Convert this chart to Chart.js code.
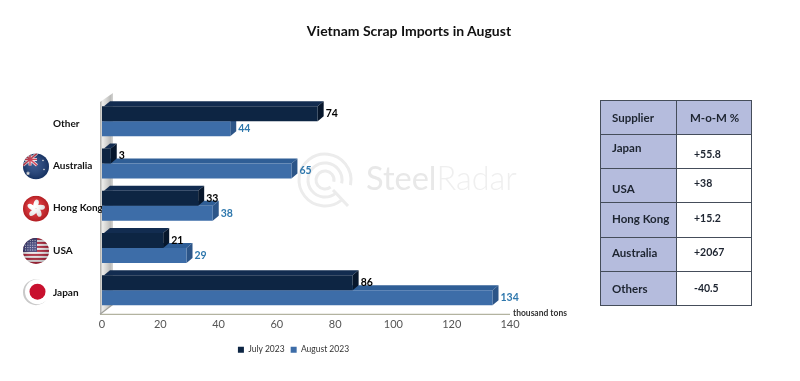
<!DOCTYPE html>
<html>
<head>
<meta charset="utf-8">
<script src="https://cdn.jsdelivr.net/npm/chart.js@4/dist/chart.umd.min.js"></script>
<style>
  html, body { margin: 0; padding: 0; background: #fff; }
  #wrap { position: relative; width: 800px; height: 381px; overflow: hidden; font-family: Lato, sans-serif; filter: blur(0.35px); }
  #chart1 { position: absolute; left: 0; top: 0; }
  #title { position: absolute; left: 209px; width: 400px; top: 22px; text-align: center; font-size: 14px; font-weight: 700; color: #111; }
  #table1 { position: absolute; left: 600px; top: 100px; width: 152px; height: 206px; border-collapse: collapse; table-layout: fixed; font-size: 11.5px; font-weight: 700; color: #1d2430; }
  #table1 td { border: 1.5px solid #454d5a; padding: 0; }
  #table1 td.name { background: #b5bcdd; padding-left: 11px; width: 64px; }
  #table1 td.val { padding-left: 17px; background: #fff; font-size: 10.5px; }
  #table1 .head td.val { background: #b5bcdd; padding-left: 13px; font-size: 11.5px; }
  #table1 span { position: relative; }
</style>
</head>
<body>
<div id="wrap">
  <canvas id="chart1" width="800" height="381"></canvas>
  <div id="title">Vietnam Scrap Imports in August</div>
  <table id="table1"></table>
</div>
<script>
var suppliers = ["Other", "Australia", "Hong Kong", "USA", "Japan"];
var july2023 = [74, 3, 33, 21, 86];
var august2023 = [44, 65, 38, 29, 134];
var xTicks = [0, 20, 40, 60, 80, 100, 120, 140];

var tableHead = ["Supplier", "M-o-M %"];
var tableNames = ["Japan", "USA", "Hong Kong", "Australia", "Others"];
var tableValues = ["+55.8", "+38", "+15.2", "+2067", "-40.5"];
var nameShift = [-4, 3, -2, -2, 0];
var valueShift = [2, -3, -2, -2, 0];

var html = '<tr class="head"><td class="name">' + tableHead[0] + '</td><td class="val">' + tableHead[1] + "</td></tr>";
tableNames.forEach(function (n, i) {
  html += '<tr><td class="name"><span style="top:' + nameShift[i] + 'px">' + n + "</span></td>";
  html += '<td class="val"><span style="top:' + valueShift[i] + 'px">' + tableValues[i] + "</span></td></tr>";
});
document.getElementById("table1").innerHTML = html;

var depthX = 6;
var depthY = 5;
var faces = [
  { top: "#122c50", side: "#07172c", label: "#000000" },
  { top: "#2f5e96", side: "#2c5588", label: "#2f78ad" },
];

function star(ctx, x, y, r) {
  ctx.beginPath();
  for (var i = 0; i < 10; i++) {
    var a = -Math.PI / 2 + (i * Math.PI) / 5;
    var q = i % 2 ? r * 0.45 : r;
    ctx.lineTo(x + Math.cos(a) * q, y + Math.sin(a) * q);
  }
  ctx.closePath();
  ctx.fill();
}

function shaded(ctx, x, y, r) {
  var g = ctx.createRadialGradient(x - 3, y - 3, 2, x, y, r);
  g.addColorStop(0, "rgba(255,255,255,0.12)");
  g.addColorStop(1, "rgba(0,0,0,0.22)");
  ctx.fillStyle = g;
  ctx.fillRect(x - r, y - r, r * 2, r * 2);
}

function flagAustralia(ctx, x, y, r) {
  ctx.fillStyle = "#1c3f7c";
  ctx.fillRect(x - r, y - r, r * 2, r * 2);
  ctx.strokeStyle = "#f1e6ea";
  ctx.lineWidth = 3;
  ctx.beginPath();
  ctx.moveTo(x - r, y - r); ctx.lineTo(x + 1, y - 1);
  ctx.moveTo(x + 1, y - r); ctx.lineTo(x - r, y - 1);
  ctx.moveTo(x - 6, y - r); ctx.lineTo(x - 6, y - 1);
  ctx.moveTo(x - r, y - 7); ctx.lineTo(x + 1, y - 7);
  ctx.stroke();
  ctx.strokeStyle = "#d0344a";
  ctx.lineWidth = 1.4;
  ctx.beginPath();
  ctx.moveTo(x - r, y - r); ctx.lineTo(x + 1, y - 1);
  ctx.moveTo(x + 1, y - r); ctx.lineTo(x - r, y - 1);
  ctx.moveTo(x - 6, y - r); ctx.lineTo(x - 6, y - 1);
  ctx.moveTo(x - r, y - 7); ctx.lineTo(x + 1, y - 7);
  ctx.stroke();
  ctx.fillStyle = "#fff";
  star(ctx, x - 8, y + 7, 2.4);
  star(ctx, x + 7, y - 6, 1.2);
  star(ctx, x + 8, y + 3, 1.2);
}

function flagHongKong(ctx, x, y, r) {
  ctx.fillStyle = "#e2252b";
  ctx.fillRect(x - r, y - r, r * 2, r * 2);
  ctx.fillStyle = "#fff";
  for (var i = 0; i < 5; i++) {
    var a = -Math.PI / 2 + (i * 2 * Math.PI) / 5;
    ctx.save();
    ctx.translate(x + Math.cos(a) * 4.6, y + Math.sin(a) * 4.6);
    ctx.rotate(a + 0.3);
    ctx.beginPath();
    ctx.ellipse(0, 0, 4.6, 2.5, 0, 0, Math.PI * 2);
    ctx.fill();
    ctx.restore();
  }
}

function flagUsa(ctx, x, y, r) {
  ctx.fillStyle = "#f3f1f3";
  ctx.fillRect(x - r, y - r, r * 2, r * 2);
  ctx.fillStyle = "#b4263c";
  for (var i = 0; i < 7; i++) {
    ctx.fillRect(x - r, y - r + i * 4, r * 2, 2);
  }
  ctx.fillStyle = "#3c3f78";
  ctx.fillRect(x - r, y - r, r + 1, r + 1);
  ctx.fillStyle = "#d9dbea";
  for (var a = 0; a < 5; a++) {
    for (var b = 0; b < 5; b++) {
      ctx.fillRect(x - r + 2 + a * 2.4, y - r + 2 + b * 2.4, 1, 1);
    }
  }
}

var flagDrawers = [null, flagAustralia, flagHongKong, flagUsa];

function drawWatermark(ctx) {
  var cx = 325;
  var cy = 180;
  ctx.save();
  ctx.strokeStyle = "#ececec";
  ctx.lineWidth = 3;
  [26, 17, 9].forEach(function (r) {
    ctx.beginPath();
    ctx.arc(cx, cy, r, 0.9, Math.PI * 2 + 0.2);
    ctx.stroke();
  });
  ctx.beginPath();
  ctx.moveTo(cx + 8, cy + 10);
  ctx.lineTo(cx + 23, cy + 26);
  ctx.stroke();
  ctx.textBaseline = "middle";
  ctx.fillStyle = "#e8e8e8";
  ctx.font = "400 32.5px Lato";
  ctx.fillText("Steel", 366, cy);
  var w = ctx.measureText("Steel").width;
  ctx.fillStyle = "#efefef";
  ctx.font = "300 32.5px Lato";
  ctx.fillText("Radar", 366 + w, cy);
  ctx.restore();
}

var decor = {
  id: "decor",
  afterLayout: function (chart) {
    // the legend sits a little right of the centre of the plot block
    chart.legend.left += 12;
    chart.legend.right += 12;
  },
  beforeDraw: function (chart) {
    var ctx = chart.ctx;
    var a = chart.chartArea;
    var yScale = chart.scales.y;
    drawWatermark(ctx);

    // back wall, under the tick labels so "Hong Kong" stays readable
    var g = ctx.createLinearGradient(a.left - 2, 0, a.left + 11, 0);
    g.addColorStop(0, "#a9a9a6");
    g.addColorStop(0.2, "#ececea");
    g.addColorStop(0.8, "#bcbcba");
    g.addColorStop(1, "#d4d4d2");
    ctx.fillStyle = g;
    ctx.beginPath();
    ctx.moveTo(a.left - 2, a.bottom + 3);
    ctx.lineTo(a.left - 2, a.top + 2);
    ctx.lineTo(a.left + 11, a.top - 7);
    ctx.lineTo(a.left + 11, a.bottom - 7);
    ctx.closePath();
    ctx.fill();

    // floor line
    ctx.strokeStyle = "#b3b3a0";
    ctx.lineWidth = 1.2;
    ctx.beginPath();
    ctx.moveTo(a.left - 2, a.bottom + 3);
    ctx.lineTo(a.right, a.bottom + 3);
    ctx.stroke();
    ctx.strokeStyle = "#a0a09a";
    ctx.beginPath();
    ctx.moveTo(a.left - 2, a.bottom + 3);
    ctx.lineTo(a.left + 11, a.bottom - 7);
    ctx.stroke();

    ctx.fillStyle = "#333";
    ctx.font = "700 8.5px Lato";
    ctx.textAlign = "left";
    ctx.textBaseline = "middle";
    ctx.fillText("thousand tons", a.right + 3, a.bottom + 2);

    // flags sit on the category positions
    var fx = a.left - 66;
    flagDrawers.forEach(function (fn, i) {
      if (!fn) return;
      var fy = yScale.getPixelForTick(i) + 3;
      ctx.save();
      ctx.beginPath();
      ctx.arc(fx, fy, 13, 0, Math.PI * 2);
      ctx.clip();
      fn(ctx, fx, fy, 13);
      shaded(ctx, fx, fy, 13);
      ctx.restore();
    });
    var jy = yScale.getPixelForTick(4) + 2;
    ctx.fillStyle = "#c9c9c9";
    ctx.beginPath();
    ctx.arc(fx, jy, 13, 0, Math.PI * 2);
    ctx.fill();
    ctx.fillStyle = "#ffffff";
    ctx.beginPath();
    ctx.arc(fx + 1.5, jy - 0.5, 12.5, 0, Math.PI * 2);
    ctx.fill();
    ctx.fillStyle = "#c8102e";
    ctx.beginPath();
    ctx.arc(fx + 1.5, jy - 0.5, 8, 0, Math.PI * 2);
    ctx.fill();
  },
  beforeDatasetDraw: function (chart, args) {
    // top and end faces behind the front of each bar
    var ctx = chart.ctx;
    var f = faces[args.index];
    args.meta.data.forEach(function (bar) {
      var y0 = bar.y - bar.height / 2;
      var y1 = bar.y + bar.height / 2;
      ctx.fillStyle = f.top;
      ctx.beginPath();
      ctx.moveTo(bar.base + 2, y0);
      ctx.lineTo(bar.base + 2 + depthX, y0 - depthY);
      ctx.lineTo(bar.x + depthX, y0 - depthY);
      ctx.lineTo(bar.x, y0);
      ctx.closePath();
      ctx.fill();
      ctx.fillStyle = f.side;
      ctx.beginPath();
      ctx.moveTo(bar.x, y0);
      ctx.lineTo(bar.x + depthX, y0 - depthY);
      ctx.lineTo(bar.x + depthX, y1 - depthY);
      ctx.lineTo(bar.x, y1);
      ctx.closePath();
      ctx.fill();
    });
  },
  afterDatasetsDraw: function (chart) {
    var ctx = chart.ctx;
    ctx.save();
    ctx.textAlign = "left";
    ctx.textBaseline = "middle";
    ctx.font = "700 10.5px Lato";
    chart.data.datasets.forEach(function (ds, i) {
      ctx.fillStyle = faces[i].label;
      chart.getDatasetMeta(i).data.forEach(function (bar, j) {
        ctx.fillText(ds.data[j], bar.x + depthX + 2, bar.y);
      });
    });
    ctx.restore();
  },
};

var ctx = document.getElementById("chart1");
var myChart = new Chart(ctx, {
  type: "bar",
  data: {
    labels: suppliers,
    datasets: [
      { label: "July 2023", data: july2023, backgroundColor: "#0d2543", borderWidth: 0 },
      { label: "August 2023", data: august2023, backgroundColor: "#3d6da8", borderWidth: 0 },
    ],
  },
  options: {
    indexAxis: "y",
    responsive: false,
    animation: false,
    categoryPercentage: 0.71,
    barPercentage: 1,
    layout: { padding: { left: 53, right: 290, top: 100, bottom: 17 } },
    plugins: {
      title: { display: false },
      tooltip: { enabled: false },
      legend: {
        position: "bottom",
        labels: {
          boxWidth: 6,
          boxHeight: 6,
          padding: 6,
          color: "#333",
          font: { family: "Lato", size: 8.5 },
        },
      },
    },
    scales: {
      x: {
        min: 0,
        max: 140,
        afterBuildTicks: function (axis) {
          axis.ticks = xTicks.map(function (v) {
            return { value: v };
          });
        },
        afterFit: function (axis) {
          axis.height += 9;
        },
        grid: { display: false },
        border: { display: false },
        ticks: { color: "#555", padding: -1, maxRotation: 0, font: { family: "Lato", size: 11 } },
      },
      y: {
        afterFit: function (axis) {
          axis.width = 49;
        },
        grid: { display: false },
        border: { display: false },
        ticks: {
          crossAlign: "far",
          color: "#111",
          // blank first line drops the name a touch below the bar centre
          callback: function (v) {
            return ["", this.getLabelForValue(v)];
          },
          font: { family: "Lato", size: 10, weight: "700", lineHeight: 0.5 },
        },
      },
    },
  },
  plugins: [decor],
});
</script>
</body>
</html>
